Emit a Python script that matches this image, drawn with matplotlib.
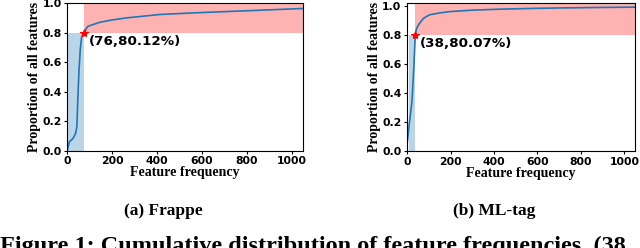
import matplotlib
matplotlib.use("Agg")
import matplotlib.pyplot as plt

# Frappe cumulative distribution
frappe_freq = [0, 10, 25, 37, 43, 47, 52, 58, 64, 70, 76, 86, 93, 145, 200, 264, 412, 561, 709, 857, 1050]
frappe_prop = [0.0, 0.06, 0.08, 0.115, 0.16, 0.34, 0.53, 0.685, 0.77, 0.79, 0.8012, 0.833, 0.845, 0.872,
               0.888, 0.902, 0.925, 0.936, 0.945, 0.954, 0.966]
frappe_star = (76, 0.8012)
frappe_fill_start = 0

# ML-tag cumulative distribution
mltag_freq = [2, 10, 18, 23, 29, 34, 38, 44, 57, 75, 103, 150, 195, 300, 425, 600, 731, 900, 1050]
mltag_prop = [0.07, 0.186, 0.28, 0.35, 0.51, 0.67, 0.8007, 0.847, 0.88, 0.915, 0.94, 0.953, 0.962,
              0.972, 0.979, 0.985, 0.988, 0.991, 0.993]
mltag_star = (38, 0.8007)
mltag_fill_start = 10

xticks = [0, 200, 400, 600, 800, 1000]
yticks = [0.0, 0.2, 0.4, 0.6, 0.8, 1.0]
labels = ["(76,80.12%)", "(38,80.07%)"]
captions = ["(a) Frappe", "(b) ML-tag"]


def draw(ax, freq, prop, star, fill_start, label, ytop):
    ax.fill_between([fill_start, star[0]], 0, 0.8, color="C0", alpha=0.3, lw=0)
    ax.fill_between([star[0], 1050], 0.8, ytop, color="red", alpha=0.3, lw=0)
    ax.plot(freq, prop, color="C0", lw=1.2)
    ax.plot([star[0]], [star[1]], marker="*", color="red", ms=6, mew=0.8)
    ax.annotate(label, star, xytext=(3, -6), textcoords="offset points",
                ha="left", va="center", fontsize=9.7, fontweight="bold",
                family="DejaVu Sans")
    ax.set_xlim(0, 1048)
    ax.set_ylim(0, ytop)
    ax.set_xticks(xticks)
    ax.set_yticks(yticks)
    for t in ax.get_xticklabels() + ax.get_yticklabels():
        t.set_fontweight("bold")
        t.set_fontsize(7.8)
    ax.tick_params(length=2.5, pad=1.5)
    ax.set_xlabel("Feature frequency", family="Liberation Serif", fontweight="bold",
                  fontsize=10, labelpad=0)
    ax.set_ylabel("Proportion of all features", family="Liberation Serif",
                  fontweight="bold", fontsize=10, labelpad=1)


fig = plt.figure(figsize=(6.4, 2.48), dpi=100)
ax1 = fig.add_axes([0.105, 0.393, 0.368, 0.593])
ax2 = fig.add_axes([0.636, 0.391, 0.356, 0.596])

draw(ax1, frappe_freq, frappe_prop, frappe_star, frappe_fill_start, labels[0], 1.0)
draw(ax2, mltag_freq, mltag_prop, mltag_star, mltag_fill_start, labels[1], 1.02)

fig.text(163 / 640, 1 - 211 / 248, captions[0], ha="center", va="center",
         family="Liberation Serif", fontweight="bold", fontsize=12.5)
fig.text(494 / 640, 1 - 211 / 248, captions[1], ha="center", va="center",
         family="Liberation Serif", fontweight="bold", fontsize=12.5)
fig.text(0.0, 1 - 236 / 248, "Figure 1: Cumulative distribution of feature frequencies. (38",
         ha="left", va="top", family="Liberation Serif", fontweight="bold", fontsize=17.5)

fig.savefig("out.png", dpi=100)
